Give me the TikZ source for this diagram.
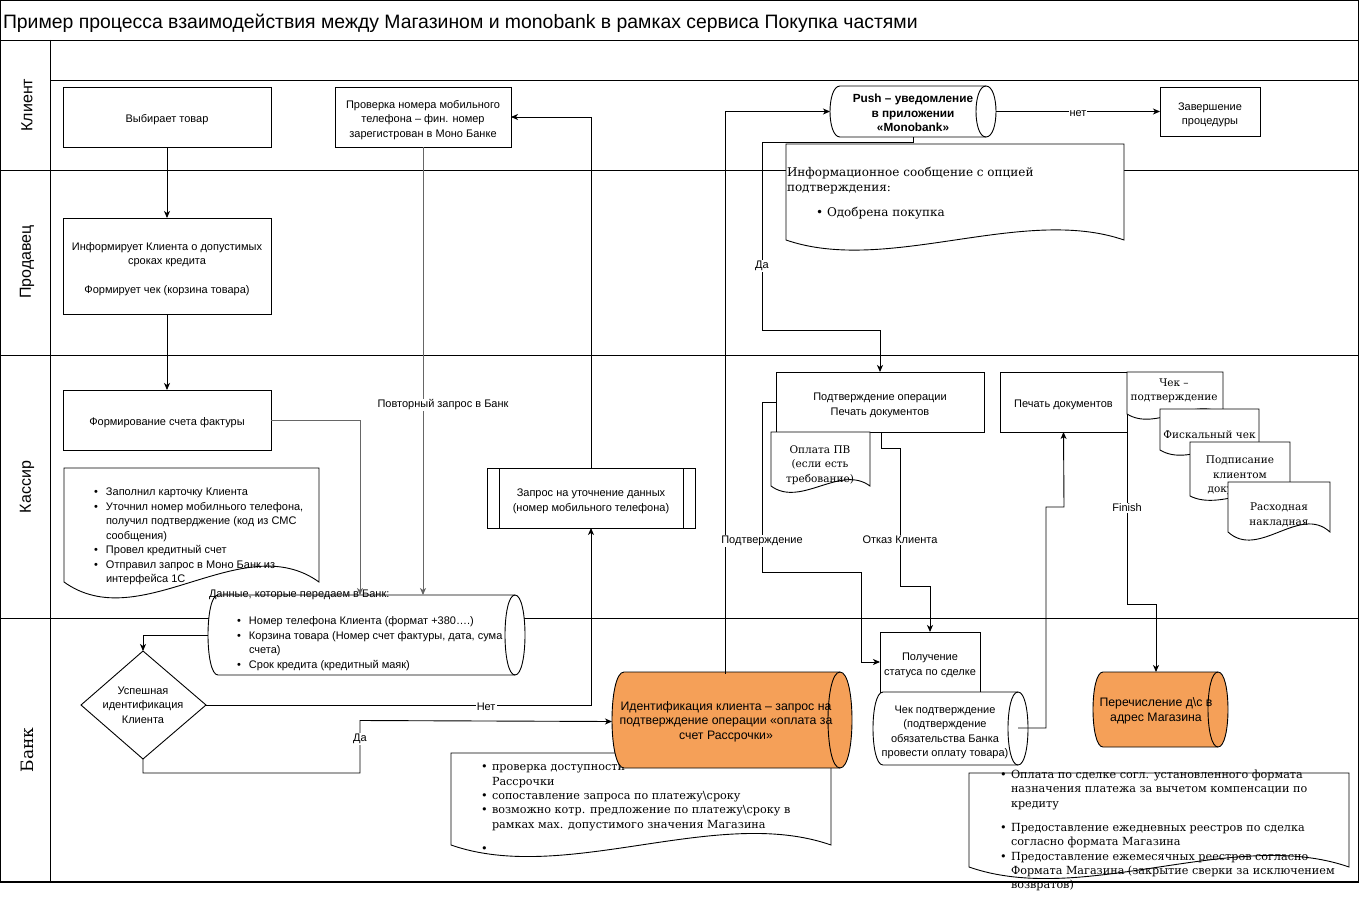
\documentclass[tikz,border=0pt]{standalone}
\usepackage{fontspec}
\setmainfont{Liberation Sans}
\newfontfamily\docserif{DejaVu Serif}
\usetikzlibrary{arrows.meta}
\definecolor{orangef}{RGB}{245,160,88}
\newcommand\smtxt{\fontsize{11}{14.5}\selectfont}
\newcommand\pushfont{\fontsize{11.8}{14.5}\selectfont\bfseries}
\newcommand\orfont{\fontsize{12.3}{14.5}\selectfont}
\newcommand\docsm{\docserif\fontsize{10.5}{14.3}\selectfont}
\newcommand\docmid{\docserif\fontsize{11.2}{14.3}\selectfont}
\newcommand\docbig{\docserif\fontsize{12}{15}\selectfont}
\newcommand\lanefont{\fontsize{16}{19}\selectfont}
\newcommand\mybul[1][12pt]{\makebox[#1][l]{\textbullet}}
\newcommand\myind[1][12pt]{\makebox[#1]{}}
\newcommand\fst[1][14pt]{\rule{0pt}{#1}}
% horizontal cylinder: x1 y1 x2 y2 r fill
\newcommand\mycyl[6]{%
  \path[draw, line width=0.9pt, fill=#6] (#1+#5,#2) -- (#3-#5,#2)
    .. controls (#3+0.333*#5,#2) and (#3+0.333*#5,#4) .. (#3-#5,#4)
    -- (#1+#5,#4) .. controls (#1-0.333*#5,#4) and (#1-0.333*#5,#2) .. (#1+#5,#2) -- cycle;
  \draw[line width=0.9pt] (#3-#5,#2) .. controls (#3-2.333*#5,#2) and (#3-2.333*#5,#4) .. (#3-#5,#4);
}
% document shape: x1 y1 x2 ybottom d
\newcommand\mydoc[5]{%
  \path[draw, line width=0.9pt, fill=white] (#1,#2) -- (#3,#2) -- (#3,#4)
    .. controls ({#1+0.7*(#3-#1)},#4-#5) and ({#1+0.3*(#3-#1)},#4+#5) .. (#1,#4) -- cycle;
}
\begin{document}
\begin{tikzpicture}[x=1pt,y=-1pt,
  every node/.style={inner sep=0pt, outer sep=0pt},
  ln/.style={line width=0.9pt},
  box/.style={draw, fill=white, line width=0.9pt, align=center, font=\smtxt},
  arr/.style={line width=0.9pt, -{Stealth[length=7pt,width=6pt,inset=2pt]}},
  lbl/.style={fill=white, font=\smtxt, inner sep=1pt, yshift=-2pt},
  ]
\useasboundingbox (0,0) rectangle (1360,899);
% frame and lanes
\draw[ln] (0.5,0.5) rectangle (1358.5,882);
\draw[line width=1.6pt] (0,882) -- (1359,882);
\draw[ln] (0,40) -- (1359,40);
\draw[ln] (50,40) -- (50,882);
\draw[ln] (50,80) -- (1359,80);
\draw[ln] (0,170) -- (1359,170);
\draw[ln] (0,355) -- (1359,355);
\draw[ln] (0,618) -- (1359,618);
\node[anchor=west, font=\fontsize{19.4}{23}\selectfont] (title) at (3,23) {Пример процесса взаимодействия между Магазином и monobank в рамках сервиса Покупка частями};
\node[rotate=90, font=\lanefont] (lclient) at (27,105) {Клиент};
\node[rotate=90, font=\lanefont] (lseller) at (27,262) {Продавец};
\node[rotate=90, font=\lanefont] (lcash) at (27,487) {Кассир};
\node[rotate=90, font={\docserif\fontsize{17}{20}\selectfont}] (lbank) at (27,750) {Банк};

% Client lane
\node[box, minimum width=208pt, minimum height=60pt] (choose) at (167,117) {\fst Выбирает товар};
\node[box, minimum width=176pt, minimum height=60pt] (check) at (423,117) {\fst Проверка номера мобильного\\телефона – фин. номер\\зарегистрован в Моно Банке};
\mycyl{830}{86}{996}{137}{10}{white}
\node[font=\pushfont, align=center, minimum width=166pt, minimum height=51pt] (push) at (913,111.5) {\fst[12pt]Push – уведомление\\в приложении\\«Monobank»};
\node[box, minimum width=100pt, minimum height=49pt] (end) at (1210,111.5) {\fst Завершение\\процедуры};
\mydoc{786}{144}{1124}{240}{35}
\node[anchor=north west, font=\docbig, align=left] (info) at (787,167) {Информационное сообщение с опцией\\подтверждения:\\[10pt]\makebox[40pt][r]{\textbullet\ }Одобрена покупка};

% Seller lane
\node[box, minimum width=208pt, minimum height=96pt] (inform) at (167,266) {\fst Информирует Клиента о допустимых\\сроках кредита\\[14.5pt]Формирует чек (корзина товара)};

% Cashier lane
\node[box, minimum width=208pt, minimum height=60pt] (invoice) at (167,420) {\fst Формирование счета фактуры};
\mydoc{64}{468}{319}{582}{55}
\node[anchor=north west, align=left, font=\smtxt] (notes1) at (94,488) {\mybul Заполнил карточку Клиента\\ \mybul Уточнил номер мобилнього телефона,\\ \myind получил подтверджение (код из СМС\\ \myind сообщения)\\ \mybul Провел кредитный счет\\ \mybul Отправил запрос в Моно Банк из\\ \myind интерфейса 1С};
\mycyl{208}{595}{525}{675}{10}{white}
\node[minimum width=317pt, minimum height=80pt] (data) at (366.5,635) {};
\node[anchor=north west, align=left, font=\smtxt] (datatext) at (237,617) {\mybul Номер телефона Клиента (формат +380….)\\ \mybul Корзина товара (Номер счет фактуры, дата, сума\\ \myind счета)\\ \mybul Срок кредита (кредитный маяк)};
\node[anchor=west, font=\smtxt] (datalabel) at (209,595) {Данные, которые передаем в Банк:};
\node[box, minimum width=208pt, minimum height=60pt] (query) at (591,498) {\fst Запрос на уточнение данных\\(номер мобильного телефона)};
\draw[ln] ([xshift=12pt]query.north west) -- ([xshift=12pt]query.south west);
\draw[ln] ([xshift=-12pt]query.north east) -- ([xshift=-12pt]query.south east);
\node[box, minimum width=208pt, minimum height=60pt] (confirm) at (880,402) {\fst Подтверждение операции\\Печать документов};
\mydoc{771}{432}{870}{486}{22}
\node[font=\docsm, align=center] (pay) at (820,465) {Оплата ПВ\\(если есть\\требование)};
\node[box, minimum width=127pt, minimum height=60pt] (print) at (1063.5,402) {\fst Печать документов};
\mydoc{1127}{372}{1223}{414}{18}
\node[font=\docsm, align=center] (doc1) at (1174,391) {Чек –\\подтверждение};
\mydoc{1160}{409}{1259}{450}{18}
\node[font=\docsm] (doc2) at (1209.5,434.5) {Фискальный чек};
\mydoc{1190}{442}{1290}{496}{15}
\node[font=\docsm, align=center] (doc3) at (1240,475.5) {Подписание\\клиентом\\документов};
\mydoc{1228}{482}{1330}{532}{28}
\node[font=\docsm, align=center] (doc4) at (1279,515) {Расходная\\накладная};

% Bank lane
\draw[ln, fill=white] (143,651) -- (206,705) -- (143,759) -- (81,705) -- cycle;
\node[font=\smtxt, align=center, minimum width=125pt, minimum height=108pt] (dec) at (143,705) {Успешная\\идентификация\\Клиента};
\mydoc{451}{753}{831}{845}{40}
\node[anchor=north west, font=\docmid, align=left] (notes2) at (481,765) {\mybul[11pt]проверка доступности\\ \myind[11pt]Рассрочки\\ \mybul[11pt]сопоставление запроса по платежу\textbackslash сроку\\ \mybul[11pt]возможно котр. предложение по платежу\textbackslash сроку в\\ \myind[11pt]рамках мах. допустимого значения Магазина\\[10pt] \mybul[11pt]};
\mycyl{612}{672}{852}{768}{12}{orangef}
\node[font=\orfont, align=center, minimum width=228pt, minimum height=96pt] (ident) at (726,721.5) {Идентификация клиента – запрос на\\подтверждение операции «оплата за\\счет Рассрочки»};
\node[box, minimum width=100pt, minimum height=60pt] (status) at (930,662) {\fst Получение\\статуса по сделке};
\mycyl{873}{692}{1028}{765}{10}{white}
\node[font=\smtxt, align=center, minimum width=155pt, minimum height=73pt] (cheque) at (945,729) {\fst Чек подтверждение\\(подтверждение\\обязательства Банка\\провести оплату товара)};
\coordinate (chequeout) at (1018,728);
\mycyl{1093}{672}{1228}{747}{10}{orangef}
\node[font=\orfont, align=center, minimum width=126pt, minimum height=75pt] (transfer) at (1156,709.5) {\fst[12pt]Перечисление д\textbackslash с в\\адрес Магазина};
\mydoc{969}{773}{1349}{867}{40}
\node[anchor=north west, font=\docmid, align=left] (notes3) at (1000,770) {\mybul[11pt]Оплата по сделке согл. установленного формата\\ \myind[11pt]назначения платежа за вычетом компенсации по\\ \myind[11pt]кредиту\\[10pt] \mybul[11pt]Предоставление ежедневных реестров по сделка\\ \myind[11pt]согласно формата Магазина\\ \mybul[11pt]Предоставление ежемесячных реестров согласно\\ \myind[11pt]Формата Магазина (закрытие сверки за исключением\\ \myind[11pt]возвратов)};

% Connectors
\draw[arr] (choose) -- (inform);
\draw[arr] (inform) -- (invoice);
\draw[arr, draw=black!60] (invoice.east) -| (360,0 |- data.north);
\draw[arr, draw=black!60] (check.south) -- (check.south |- data.north) node[lbl, pos=0.571, xshift=20pt] {Повторный запрос в Банк};
\draw[arr] (data.west) -| (dec.north);
\draw[arr] (dec.east) -| (query.south) node[lbl, pos=0.364] {Нет};
\draw[arr] (dec.south) -- (143,773) -- (360,773) -- (360,720.5) node[lbl, pos=0.68] {Да} -- (ident.west);
\draw[arr] (query.north) |- (check.east);
\draw[arr] (725,0 |- ident.north) -- (725,0 |- push.west) -- (push.west);
\draw[arr] (push.east) -- (end.west) node[lbl, midway] {нет};
\draw[arr] (push.south) -- (913,142) -- (762,142) -- (762,330) node[lbl, pos=0.65] {Да} -- (880,330) -- (confirm.north);
\draw[arr] (confirm.west) -- (762,402) -- (762,572) node[lbl, pos=0.806] {Подтверждение} -- (861,572) -- (861,0 |- status.west) -- (status.west);
\draw[arr] (881,0 |- confirm.south) -- (881,448) -- (900,448) -- (900,586) node[lbl, pos=0.652] {Отказ Клиента} -- (930,586) -- (status.north);
\draw[arr] (chequeout) -- (1046,728) -- (1046,507) -- (1064,507) -- (print.south);
\draw[arr] (print.south east) -- (1127,604) node[lbl, pos=0.43] {Finish} -- (1156,604) -- (transfer.north);
\end{tikzpicture}
\end{document}
